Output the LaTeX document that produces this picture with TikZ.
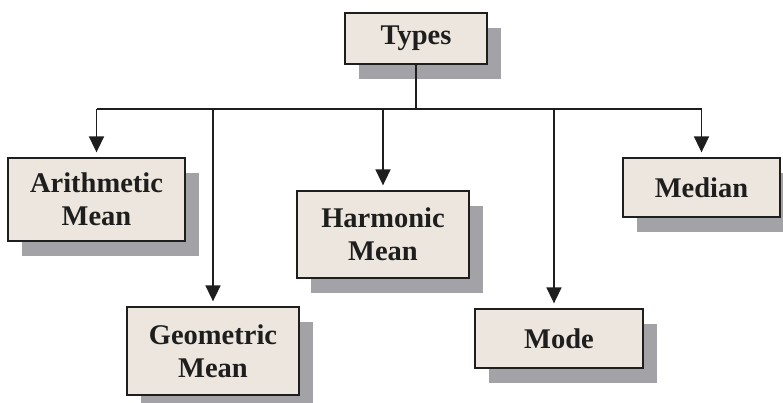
\documentclass[tikz,border=0pt]{standalone}
\usepackage{fontspec}
\setmainfont{Liberation Serif}
\usetikzlibrary{shadows,arrows.meta}
\definecolor{boxfill}{HTML}{ECE6DE}
\definecolor{shadowgray}{HTML}{A3A3A7}
\definecolor{ink}{HTML}{1E1E1E}
\begin{document}
\begin{tikzpicture}[x=1pt,y=-1pt,
  catbox/.style={draw=ink, line width=1.3pt, fill=boxfill, inner sep=0pt, align=center,
    font=\fontsize{28.5}{33}\selectfont\bfseries, text=ink,
    drop shadow={shadow xshift=14pt, shadow yshift=-15pt, fill=shadowgray, opacity=1}},
  link/.style={draw=ink, line width=1.7pt},
  arr/.style={link, -{Triangle[width=15pt,length=16pt]}, shorten >=5pt}
]
\useasboundingbox (0,0) rectangle (783,402);
\node[catbox, minimum width=142pt, minimum height=51pt] (types) at (416,38.5) {Types};
\node[catbox, minimum width=177pt, minimum height=83pt] (arith) at (96.5,199.5) {Arithmetic\\Mean};
\node[catbox, minimum width=172pt, minimum height=88pt] (geo) at (213,351) {Geometric\\Mean};
\node[catbox, minimum width=172pt, minimum height=87pt] (harm) at (383,234.5) {Harmonic\\Mean};
\node[catbox, minimum width=168pt, minimum height=59pt] (mode) at (559,338.5) {Mode};
\node[catbox, minimum width=157pt, minimum height=59pt] (median) at (701.5,187.5) {Median};
\coordinate (bus) at (0,109);
\draw[link] (types.south) -- (types.south |- bus);
\draw[link] (arith.north |- bus) -- (median.north |- bus);
\draw[arr] (arith.north |- bus) -- (arith.north);
\draw[arr] (geo.north |- bus) -- (geo.north);
\draw[arr] (harm.north |- bus) -- (harm.north);
\draw[arr] ([xshift=-5pt]mode.north |- bus) -- ([xshift=-5pt]mode.north);
\draw[arr] (median.north |- bus) -- (median.north);
\end{tikzpicture}
\end{document}
